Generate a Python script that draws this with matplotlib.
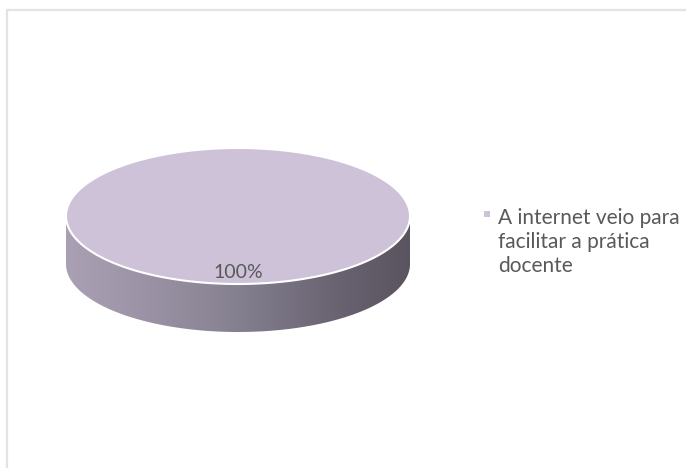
import matplotlib.pyplot as plt
import numpy as np
from matplotlib.patches import Polygon, Rectangle
from matplotlib.colors import LinearSegmentedColormap

labels = ["A internet veio para\nfacilitar a prática\ndocente"]
values = [100]
top_colors = ["#cdc2d8"]
pct_labels = ["100%"]

plt.rcParams['font.family'] = ['Lato', 'DejaVu Sans']

fig = plt.figure(figsize=(6.86, 4.68), dpi=100)
ax = fig.add_axes([0, 0, 1, 1])
ax.set_xlim(0, 686)
ax.set_ylim(468, 0)
ax.axis("off")

# frame (only top and left visible in the original)
ax.plot([7, 7, 686], [468, 10, 10], color="#e3e3e3", lw=1.6)

cx, cy = 238, 216
a, b = 172, 68
depth = 48

total = float(sum(values))
start = 90.0

side_cmap = LinearSegmentedColormap.from_list(
    "side", ["#aaa0b4", "#9a92a4", "#858090", "#6c6675", "#5a5460"])

for v, c in zip(values, top_colors):
    ext = 360.0 * v / total
    th = np.radians(np.linspace(start, start - ext, 400))
    # front side: visible part where sin(theta) < 0
    front = np.radians(np.linspace(180, 360, 300))
    xs = cx + a * np.cos(front)
    ys = cy - b * np.sin(front)
    side_pts = np.concatenate([np.column_stack([xs, ys]),
                               np.column_stack([xs[::-1], ys[::-1] + depth])])
    side = Polygon(side_pts, closed=True, facecolor="none", edgecolor="none")
    ax.add_patch(side)
    grad = np.linspace(0, 1, 256).reshape(1, -1)
    im = ax.imshow(grad, cmap=side_cmap, extent=[cx - a, cx + a, cy + b + depth, cy],
                   aspect="auto", zorder=1)
    im.set_clip_path(side)

    xt = cx + a * np.cos(th)
    yt = cy - b * np.sin(th)
    if ext < 360:
        pts = np.vstack([[cx, cy], np.column_stack([xt, yt])])
    else:
        pts = np.column_stack([xt, yt])
    ax.add_patch(Polygon(pts, closed=True, facecolor=c, edgecolor="white",
                         lw=1.5, zorder=2))
    start -= ext

ax.text(cx, 273, pct_labels[0], ha="center", va="center", fontsize=14,
        color="#595959", zorder=3)

# legend
ax.add_patch(Rectangle((484, 211), 6, 6, facecolor=top_colors[0], edgecolor="none"))
ax.text(498, 242, labels[0], ha="left", va="center", fontsize=15,
        color="#595959", linespacing=1.27)

fig.savefig("out.png", dpi=100)
